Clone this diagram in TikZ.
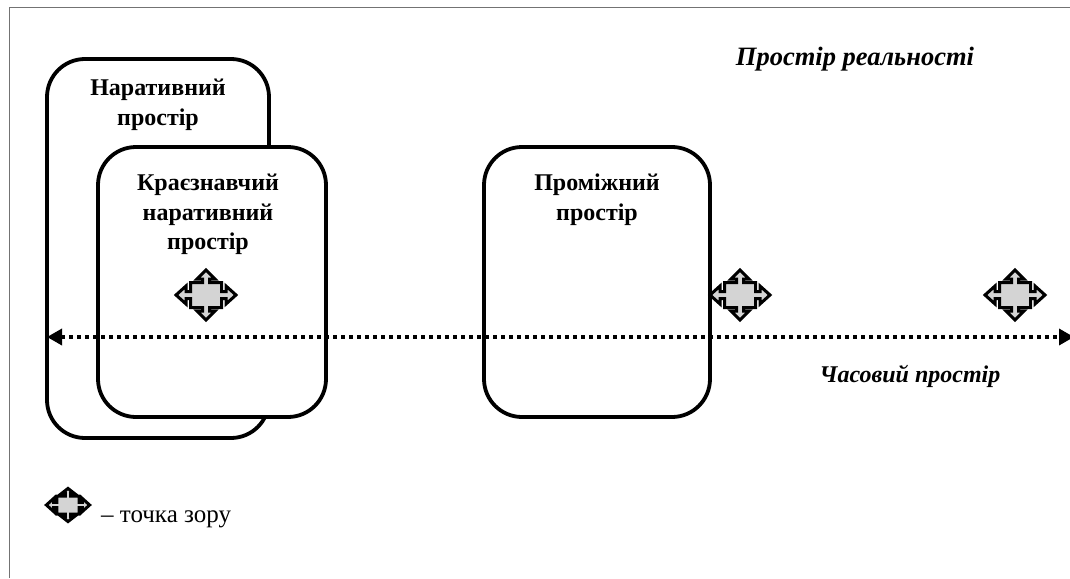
\documentclass[tikz,border=0pt]{standalone}
\usepackage{fontspec}
\setmainfont{Liberation Serif}
\usetikzlibrary{arrows.meta}
\tikzset{x=1pt,y=-1pt,
 space/.style={draw=black,line width=3.8pt,rounded corners=38pt,fill=white},
 lab/.style={font=\bfseries\fontsize{24}{29.5}\selectfont,align=center,inner sep=0pt,anchor=north},
 ital/.style={font=\bfseries\itshape\fontsize{26.5}{30}\selectfont,inner sep=0pt,anchor=center},
 timeline/.style={line width=3.4pt,dash pattern=on 4pt off 4pt,{Triangle[length=15pt,width=16pt]}-{Triangle[length=15pt,width=16pt]}},
 viewmark/.pic={\draw[draw=black,line width=3pt,fill=black!17,line join=miter,miter limit=4]
   (30,0)--(20,-9)--(20,-3.5)--(15.5,-3.5)--(15.5,-12.5)--(3.5,-12.5)--(3.5,-16)--(9,-16)--(0,-25)--(-9,-16)--(-3.5,-16)--(-3.5,-12.5)--(-15.5,-12.5)--(-15.5,-3.5)--(-20,-3.5)--(-20,-9)--(-30,0)--(-20,9)--(-20,3.5)--(-15.5,3.5)--(-15.5,12.5)--(-3.5,12.5)--(-3.5,16)--(-9,16)--(0,25)--(9,16)--(3.5,16)--(3.5,12.5)--(15.5,12.5)--(15.5,3.5)--(20,3.5)--(20,9)--cycle;},
 viewsmall/.pic={\draw[draw=black,line width=3pt,fill=black!17,line join=miter,miter limit=4,scale=.72]
   (30,0)--(20,-9)--(20,-3.5)--(15.5,-3.5)--(15.5,-12.5)--(3.5,-12.5)--(3.5,-16)--(9,-16)--(0,-23)--(-9,-16)--(-3.5,-16)--(-3.5,-12.5)--(-15.5,-12.5)--(-15.5,-3.5)--(-20,-3.5)--(-20,-9)--(-30,0)--(-20,9)--(-20,3.5)--(-15.5,3.5)--(-15.5,12.5)--(-3.5,12.5)--(-3.5,16)--(-9,16)--(0,23)--(9,16)--(3.5,16)--(3.5,12.5)--(15.5,12.5)--(15.5,3.5)--(20,3.5)--(20,9)--cycle;}
}
\begin{document}
\begin{tikzpicture}
\useasboundingbox (0,0) rectangle (1070,578);
\draw[draw=black!55,line width=1.2pt] (9.5,578)--(9.5,7.5)--(1070,7.5);
\draw[space] (47,59) rectangle (269,438);
\draw[space] (98,147) rectangle (326,417);
\draw[space] (484,147) rectangle (710,417);
\node[lab] (nar) at (158,79) {Наративний\\простір};
\node[lab] (kra) at (208,174) {Краєзнавчий\\наративний\\простір};
\node[lab] (pro) at (597,174) {Проміжний\\простір};
\node[ital] (real) at (855,59) {Простір реальності};
\node[ital,font=\bfseries\itshape\fontsize{24}{28}\selectfont] (time) at (910,376) {Часовий простір};
\coordinate (tl) at (47,337);
\coordinate (tr) at (1074,337);
\draw[timeline] (tl)--(tr);
\pic at (206,295) {viewmark};
\pic at (740,295) {viewmark};
\pic at (1015,295) {viewmark};
\pic at (68,505) {viewsmall};
\node[font=\fontsize{25}{29}\selectfont,anchor=west,inner sep=0pt] (leg) at (101,519) {– точка зору};
\end{tikzpicture}
\end{document}
